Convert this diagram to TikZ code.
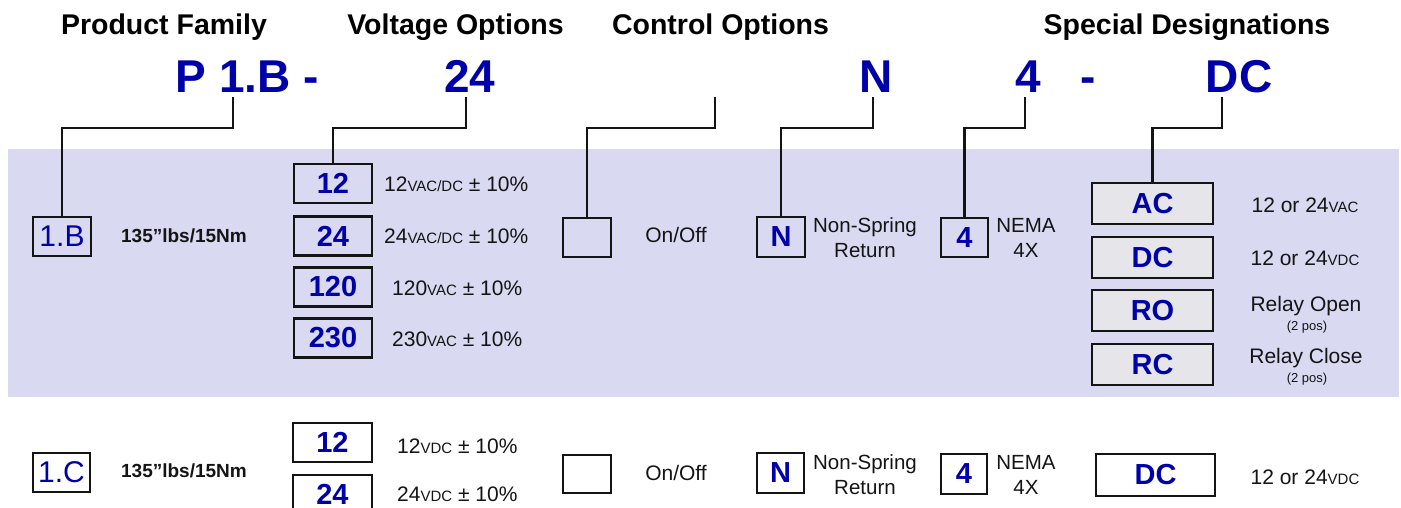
\documentclass[tikz,border=0pt]{standalone}
\usepackage{fontspec}
\setmainfont{Liberation Sans}
\definecolor{band}{RGB}{217,217,242}
\definecolor{codeblue}{RGB}{0,0,170}
\definecolor{optgrey}{RGB}{230,230,234}
\definecolor{ink}{RGB}{20,20,20}
\newcommand{\unitsm}[1]{{\fontsize{15}{15}\selectfont #1}}
\begin{document}
\begin{tikzpicture}[x=1pt,y=-1pt,
  hdr/.style={font=\bfseries\fontsize{28.5}{30}\selectfont, anchor=base, inner sep=0},
  code/.style={font=\bfseries\fontsize{46}{48}\selectfont, text=codeblue, anchor=base, inner sep=0},
  conn/.style={draw=ink, line width=2.5pt, line join=miter},
  optbox/.style={draw=ink, line width=2.5pt, fill=band, inner sep=0, text=codeblue,
    font=\bfseries\fontsize{29}{30}\selectfont, minimum height=39pt},
  wbox/.style={optbox, fill=white},
  gbox/.style={optbox, fill=optgrey, minimum width=121pt, minimum height=41pt},
  lbl/.style={font=\fontsize{21}{22}\selectfont, text=ink, inner sep=0, align=center},
  lblb/.style={font=\bfseries\fontsize{19}{20}\selectfont, text=ink, inner sep=0},
  tiny/.style={font=\fontsize{13}{14}\selectfont, text=ink, inner sep=0}
]
\useasboundingbox (0,0) rectangle (1401,508);
\fill[band] (8,149) rectangle (1399,397);

% headers
\node[hdr] (hPF) at (164,35) {Product Family};
\node[hdr] (hVO) at (455.5,35) {Voltage Options};
\node[hdr] (hCO) at (720.5,35) {Control Options};
\node[hdr] (hSD) at (1187,35) {Special Designations};

% code string
\node[code] (cP) at (247.5,93) {P 1.B -};
\node[code] (c24) at (470,93) {24};
\node[code] (cN) at (876,93) {N};
\node[code] (c4) at (1028,93) {4};
\node[code] (cdash) at (1088,93) {-};
\node[code] (cDC) at (1239,93) {DC};

\coordinate (lvl) at (0,128);
\coordinate (d1) at (233,97);
\coordinate (d2) at (466,97);
\coordinate (d3) at (715,97);
\coordinate (d4) at (873,97);
\coordinate (d5) at (1025,97);
\coordinate (d6) at (1222,97);

% first row (band)
\node[optbox, font=\fontsize{30}{30}\selectfont, minimum width=58pt] (b1B) at (62,236.5) {1.B};
\node[lblb] (t1B) at (184,236) {135”lbs/15Nm};

\node[optbox, minimum width=78pt] (v12) at (333,183.5) {12};
\node[optbox, minimum width=78pt] (v24) at (333,236) {24};
\node[optbox, minimum width=78pt] (v120) at (333,287) {120};
\node[optbox, minimum width=78pt] (v230) at (333,338) {230};
\node[lbl, anchor=west] (tv12) at (384,184) {12\unitsm{VAC/DC} ± 10\%};
\node[lbl, anchor=west] (tv24) at (384,236) {24\unitsm{VAC/DC} ± 10\%};
\node[lbl, anchor=west] (tv120) at (392,288) {120\unitsm{VAC} ± 10\%};
\node[lbl, anchor=west] (tv230) at (392,339) {230\unitsm{VAC} ± 10\%};

\node[optbox, minimum width=48pt] (ctl) at (587,237.5) {};
\node[lbl] (tctl) at (676,235) {On/Off};

\node[optbox, minimum width=48pt, minimum height=40pt] (bN) at (781,237) {N};
\node[lbl, font=\fontsize{20.5}{25}\selectfont] (tN) at (865,238) {Non-Spring\\Return};

\node[optbox, minimum width=47pt] (b4) at (964.5,237.5) {4};
\node[lbl, font=\fontsize{20.5}{25}\selectfont] (t4) at (1026,238) {NEMA\\4X};

\node[gbox] (sAC) at (1152.5,203.5) {AC};
\node[gbox] (sDC) at (1152.5,257.5) {DC};
\node[gbox] (sRO) at (1152.5,310.5) {RO};
\node[gbox] (sRC) at (1152.5,364.5) {RC};
\node[lbl] (tAC) at (1305,205) {12 or 24\unitsm{VAC}};
\node[lbl] (tDC) at (1305,258) {12 or 24\unitsm{VDC}};
\node[lbl] (tRO) at (1306,306) {Relay Open};
\node[tiny] (tRO2) at (1307,327) {(2 pos)};
\node[lbl] (tRC) at (1306,358) {Relay Close};
\node[tiny] (tRC2) at (1307,379) {(2 pos)};

% connectors
\draw[conn] (d1) -- (d1 |- lvl) -| (b1B.north);
\draw[conn] (d2) -- (d2 |- lvl) -| (v12.north);
\draw[conn] (d3) -- (d3 |- lvl) -| (ctl.north);
\draw[conn] (d4) -- (d4 |- lvl) -| (bN.north);
\draw[conn] (d5) -- (d5 |- lvl) -| (b4.north);
\draw[conn] (d6) -- (d6 |- lvl) -| (sAC.north);

% second row (white)
\node[wbox, font=\fontsize{30}{30}\selectfont, minimum width=57pt] (b1C) at (61.5,472.5) {1.C};
\node[lblb] (t1C) at (184,471) {135”lbs/15Nm};
\node[wbox, minimum width=79pt] (w12) at (332.5,442.5) {12};
\node[wbox, minimum width=79pt] (w24) at (332.5,494.5) {24};
\node[lbl, anchor=west] (tw12) at (397,446) {12\unitsm{VDC} ± 10\%};
\node[lbl, anchor=west] (tw24) at (397,494) {24\unitsm{VDC} ± 10\%};
\node[wbox, minimum width=48pt, minimum height=38pt] (wctl) at (587,474) {};
\node[lbl] (twctl) at (676,473) {On/Off};
\node[wbox, minimum width=47pt, minimum height=40pt] (wN) at (780.5,473) {N};
\node[lbl, font=\fontsize{20.5}{25}\selectfont] (twN) at (865,475) {Non-Spring\\Return};
\node[wbox, minimum width=46pt, minimum height=40pt] (w4) at (964,474) {4};
\node[lbl, font=\fontsize{20.5}{25}\selectfont] (tw4) at (1026,475) {NEMA\\4X};
\node[wbox, minimum width=119pt, minimum height=42pt] (wDC) at (1155.5,475) {DC};
\node[lbl] (twDC) at (1305,477) {12 or 24\unitsm{VDC}};
\end{tikzpicture}
\end{document}
